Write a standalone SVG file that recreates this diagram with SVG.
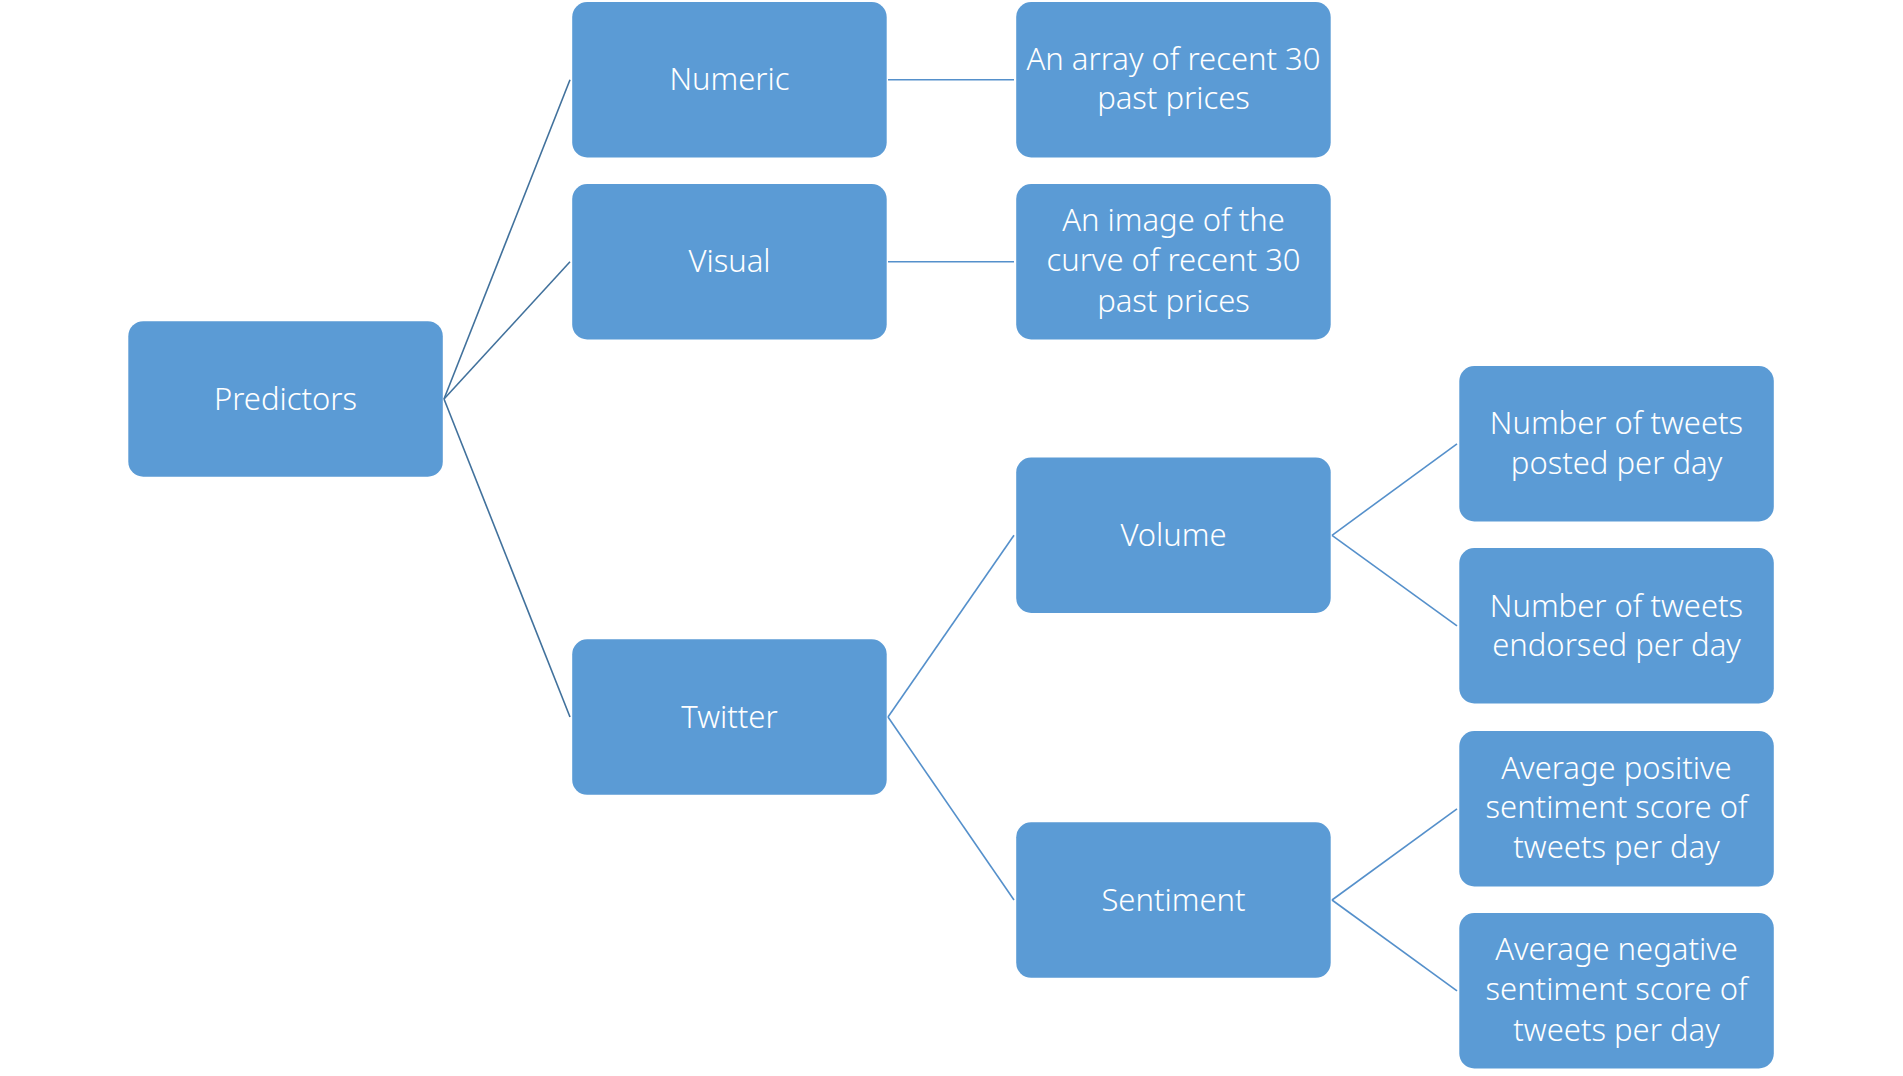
<svg xmlns="http://www.w3.org/2000/svg" width="1903" height="1076" viewBox="0 0 1903 1076">
<style>
.box{fill:#5B9BD5;}
.t{font-family:"Noto Sans","Liberation Sans",sans-serif;font-size:31px;font-weight:300;fill:#FFFFFF;text-anchor:middle;}
.c1{stroke:#41719C;stroke-width:1.6;fill:none;}
.c2{stroke:#5590CB;stroke-width:1.6;fill:none;}
</style>
<rect width="1903" height="1076" fill="#FFFFFF"/>
<g id="connectors">
<line class="c1" x1="444" y1="399" x2="570" y2="79.8"/>
<line class="c1" x1="444" y1="399" x2="570" y2="261.8"/>
<line class="c1" x1="444" y1="399" x2="570" y2="717"/>
<line class="c2" x1="888" y1="79.8" x2="1014" y2="79.8"/>
<line class="c2" x1="888" y1="261.8" x2="1014" y2="261.8"/>
<line class="c2" x1="888" y1="717" x2="1014" y2="535.3"/>
<line class="c2" x1="888" y1="717" x2="1014" y2="900"/>
<line class="c2" x1="1332" y1="535.3" x2="1457" y2="443.8"/>
<line class="c2" x1="1332" y1="535.3" x2="1457" y2="625.8"/>
<line class="c2" x1="1332" y1="900" x2="1457" y2="808.8"/>
<line class="c2" x1="1332" y1="900" x2="1457" y2="990.8"/>
</g>
<g id="predictors">
<rect class="box" x="128.3" y="321.2" width="314.5" height="155.5" rx="15"/>
<text class="t" x="285.5" y="409.5">Predictors</text>
</g>
<g id="numeric">
<rect class="box" x="572.2" y="2" width="314.5" height="155.5" rx="15"/>
<text class="t" x="729.5" y="90.3">Numeric</text>
</g>
<g id="visual">
<rect class="box" x="572.2" y="184" width="314.5" height="155.5" rx="15"/>
<text class="t" x="729.5" y="272.3">Visual</text>
</g>
<g id="twitter">
<rect class="box" x="572.2" y="639.3" width="314.5" height="155.5" rx="15"/>
<text class="t" x="729.5" y="727.6">Twitter</text>
</g>
<g id="array">
<rect class="box" x="1016.2" y="2" width="314.5" height="155.5" rx="15"/>
<text class="t" x="1173.5" y="70.3">An array of recent 30</text>
<text class="t" x="1173.5" y="109.3">past prices</text>
</g>
<g id="image">
<rect class="box" x="1016.2" y="184" width="314.5" height="155.5" rx="15"/>
<text class="t" x="1173.5" y="231">An image of the</text>
<text class="t" x="1173.5" y="271">curve of recent 30</text>
<text class="t" x="1173.5" y="311.5">past prices</text>
</g>
<g id="volume">
<rect class="box" x="1016.2" y="457.5" width="314.5" height="155.5" rx="15"/>
<text class="t" x="1173.5" y="546">Volume</text>
</g>
<g id="sentiment">
<rect class="box" x="1016.2" y="822.3" width="314.5" height="155.5" rx="15"/>
<text class="t" x="1173.5" y="910.6">Sentiment</text>
</g>
<g id="posted">
<rect class="box" x="1459.3" y="366" width="314.5" height="155.5" rx="15"/>
<text class="t" x="1616.5" y="434.3">Number of tweets</text>
<text class="t" x="1616.5" y="474.3">posted per day</text>
</g>
<g id="endorsed">
<rect class="box" x="1459.3" y="548" width="314.5" height="155.5" rx="15"/>
<text class="t" x="1616.5" y="616.5">Number of tweets</text>
<text class="t" x="1616.5" y="656">endorsed per day</text>
</g>
<g id="positive">
<rect class="box" x="1459.3" y="731" width="314.5" height="155.5" rx="15"/>
<text class="t" x="1616.5" y="778.7">Average positive</text>
<text class="t" x="1616.5" y="818.3">sentiment score of</text>
<text class="t" x="1616.5" y="858.3">tweets per day</text>
</g>
<g id="negative">
<rect class="box" x="1459.3" y="913" width="314.5" height="155.5" rx="15"/>
<text class="t" x="1616.5" y="960.3">Average negative</text>
<text class="t" x="1616.5" y="1000">sentiment score of</text>
<text class="t" x="1616.5" y="1041">tweets per day</text>
</g>
</svg>
